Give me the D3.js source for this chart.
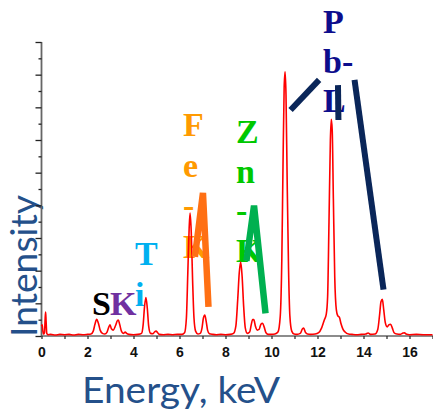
<!DOCTYPE html>
<html>
<head>
<meta charset="utf-8">
<script src="https://cdn.jsdelivr.net/npm/d3@7"></script>
<style>
  html, body { margin: 0; padding: 0; background: #fff; }
  svg { display: block; }
</style>
</head>
<body>
<svg id="chart" width="433" height="411"></svg>
<script>
// XRF spectrum: energy (keV) and intensity (arbitrary units, 1 = one major tick)
const energyKeV = [
  0.00, 0.03, 0.06, 0.09, 0.13, 0.16, 0.18, 0.20, 0.23, 0.28, 0.40, 0.60, 0.80, 1.00, 1.20, 1.40, 1.60, 1.80, 2.00,
  2.15, 2.25, 2.32, 2.40, 2.47, 2.55, 2.65, 2.75, 2.85, 2.93, 2.98, 3.04, 3.12, 3.22, 3.30, 3.34, 3.40, 3.48, 3.56,
  3.64, 3.70, 3.80, 4.00, 4.20, 4.35, 4.42, 4.48, 4.54, 4.60, 4.66, 4.74, 4.85, 4.92, 4.98, 5.05, 5.12, 5.30, 5.50,
  5.70, 5.90, 6.10, 6.22, 6.30, 6.36, 6.42, 6.46, 6.51, 6.57, 6.63, 6.70, 6.80, 6.90, 6.98, 7.04, 7.10, 7.16, 7.22,
  7.30, 7.45, 7.60, 7.80, 8.00, 8.20, 8.35, 8.45, 8.53, 8.60, 8.66, 8.72, 8.79, 8.86, 8.95, 9.05, 9.12, 9.18, 9.23,
  9.30, 9.38, 9.46, 9.54, 9.61, 9.68, 9.76, 9.86, 10.00, 10.15, 10.28, 10.38, 10.45, 10.50, 10.55, 10.59, 10.63,
  10.68, 10.74, 10.80, 10.88, 10.98, 11.10, 11.25, 11.35, 11.40, 11.47, 11.56, 11.70, 11.90, 12.05, 12.18, 12.30,
  12.38, 12.44, 12.50, 12.56, 12.60, 12.64, 12.69, 12.75, 12.82, 12.88, 12.95, 13.02, 13.10, 13.20, 13.35, 13.50,
  13.70, 13.90, 14.10, 14.20, 14.30, 14.50, 14.62, 14.70, 14.76, 14.82, 14.88, 14.95, 15.03, 15.10, 15.18, 15.25,
  15.33, 15.45, 15.60, 15.72, 15.78, 15.85, 16.00, 16.30, 16.60, 17.00
];
const intensity = [
  0.30, 0.34, 0.15, 0.06, 0.10, 0.55, 0.73, 0.45, 0.08, 0.04, 0.05, 0.03, 0.05, 0.04, 0.05, 0.03, 0.05, 0.04, 0.05,
  0.06, 0.15, 0.35, 0.51, 0.40, 0.18, 0.08, 0.06, 0.12, 0.28, 0.34, 0.22, 0.18, 0.32, 0.47, 0.49, 0.35, 0.14, 0.08,
  0.12, 0.08, 0.05, 0.04, 0.05, 0.08, 0.35, 0.90, 1.18, 0.85, 0.30, 0.08, 0.07, 0.13, 0.15, 0.10, 0.05, 0.04, 0.05,
  0.04, 0.05, 0.05, 0.10, 0.55, 1.90, 3.30, 3.76, 3.20, 1.70, 0.55, 0.15, 0.06, 0.08, 0.25, 0.55, 0.64, 0.45, 0.18,
  0.07, 0.05, 0.04, 0.05, 0.04, 0.05, 0.08, 0.30, 1.10, 1.95, 2.26, 1.85, 0.90, 0.25, 0.08, 0.12, 0.35, 0.50, 0.50,
  0.30, 0.18, 0.20, 0.36, 0.39, 0.28, 0.10, 0.05, 0.05, 0.06, 0.12, 0.60, 2.40, 5.20, 7.60, 8.09, 7.40,
  4.80, 2.10, 0.60, 0.15, 0.06, 0.05, 0.08, 0.22, 0.24, 0.12, 0.06, 0.05, 0.06, 0.10, 0.25, 0.50,
  0.66, 1.20, 3.50, 6.00, 6.63, 6.30, 4.20, 1.80, 0.80, 0.62, 0.58, 0.38, 0.22, 0.12, 0.06, 0.05,
  0.04, 0.05, 0.06, 0.09, 0.05, 0.06, 0.20, 0.65, 1.05, 1.12, 0.80, 0.40, 0.28, 0.34, 0.36, 0.25,
  0.10, 0.06, 0.05, 0.09, 0.10, 0.06, 0.04, 0.05, 0.04, 0.04
];

// Axis ticks
const xTickValues = d3.range(0, 18, 1);
const xTickLabels = ["0", "", "2", "", "4", "", "6", "", "8", "", "10", "", "12", "", "14", "", "16", ""];
const yMajorTicks = [0, 1, 2, 3, 4, 5, 6, 7, 8, 9];
const yMinorTicks = [0.5, 1.5, 2.5, 3.5, 4.5, 5.5, 6.5, 7.5, 8.5];

// Element line labels, one character group per row
const labelFe = ["F", "e", "-", "K"];
const labelZn = ["Z", "n", "-", "K"];
const labelPb = ["P", "b-", "L"];
const labelTi = ["T", "i"];
const labelS = "S";
const labelK = "K";

// Pointer lines, endpoints in [keV, intensity]
const pointerFe = [[6.67, 2.42], [7.02, 4.38], [7.26, 0.89]];
const pointerZn = [[8.91, 2.30], [9.24, 3.99], [9.74, 0.69]];
const pointerPbA = [[10.83, 6.92], [12.07, 7.84]];
const pointerPbB = [[12.89, 7.68], [12.91, 6.61]];
const pointerPbC = [[13.61, 7.84], [14.87, 1.42]];

const svg = d3.select("#chart");

const x = d3.scaleLinear().domain([0, 17]).range([41.5, 432.5]);
const y = d3.scaleLinear().domain([0, 9]).range([336, 42]);

// Axis titles
const titleColor = "#24508a";
svg.append("text")
  .attr("x", 82).attr("y", 403)
  .attr("font-family", "Lato, 'Open Sans', sans-serif")
  .attr("font-size", 37)
  .attr("fill", titleColor)
  .attr("textLength", 198)
  .attr("lengthAdjust", "spacingAndGlyphs")
  .text("Energy, keV");

svg.append("text")
  .attr("transform", "translate(37,337) rotate(-90)")
  .attr("font-family", "Lato, 'Open Sans', sans-serif")
  .attr("font-size", 36)
  .attr("fill", titleColor)
  .attr("textLength", 142)
  .attr("lengthAdjust", "spacingAndGlyphs")
  .text("Intensity");

// X axis
const xAxis = svg.append("g")
  .attr("transform", `translate(0,${y(0)})`)
  .call(d3.axisBottom(x)
    .tickValues(xTickValues)
    .tickSize(3)
    .tickPadding(8)
    .tickFormat((d, i) => xTickLabels[i]));
xAxis.select(".domain").attr("stroke", "#666").attr("stroke-width", 1.6)
  .attr("d", `M${x(0)},0H433`);
xAxis.selectAll(".tick line").attr("stroke", "#222").attr("stroke-width", 1.2);
xAxis.selectAll(".tick text")
  .attr("font-family", "'Liberation Sans', Arial, sans-serif")
  .attr("font-weight", "bold")
  .attr("font-size", 14)
  .attr("fill", "#111");

// Y axis: major and minor ticks, no labels
const yAxis = svg.append("g")
  .attr("transform", `translate(${x(0)},0)`)
  .call(d3.axisLeft(y).tickValues(yMajorTicks).tickSize(6).tickFormat(""));
yAxis.select(".domain").attr("stroke", "#666").attr("stroke-width", 1.8)
  .attr("d", `M0,${y(9)}V${y(0)}`);
yAxis.selectAll(".tick line").attr("stroke", "#222").attr("stroke-width", 1.3);

const yMinor = svg.append("g")
  .attr("transform", `translate(${x(0)},0)`)
  .call(d3.axisLeft(y).tickValues(yMinorTicks).tickSize(3).tickFormat(""));
yMinor.select(".domain").remove();
yMinor.selectAll(".tick line").attr("stroke", "#222").attr("stroke-width", 1.3);

// Element labels (drawn beneath the spectrum and pointers)
const serif = "'Liberation Serif', 'Times New Roman', serif";
function stackedLabel(rows, x0, y0, step, color) {
  svg.append("g").selectAll("text")
    .data(rows)
    .join("text")
    .attr("x", x0)
    .attr("y", (d, i) => y0 + i * step)
    .attr("font-family", serif)
    .attr("font-weight", "bold")
    .attr("font-size", 34)
    .attr("fill", color)
    .text(d => d);
}
stackedLabel(labelFe, 183, 136, 40.5, "#ff9a00");
stackedLabel(labelZn, 236, 143, 39.7, "#00c800");
stackedLabel(labelPb, 323, 33, 39.5, "#0d0d8c");
stackedLabel(labelTi, 135, 265, 41, "#00b0f0");
stackedLabel([labelS], 92, 315, 0, "#000000");
stackedLabel([labelK], 110, 315, 0, "#7030a0");

// Spectrum
const spectrum = energyKeV.map((e, i) => [e, intensity[i]]);
svg.append("path")
  .datum(spectrum)
  .attr("fill", "none")
  .attr("stroke", "#ff0000")
  .attr("stroke-width", 1.6)
  .attr("stroke-linejoin", "round")
  .attr("d", d3.line().x(d => x(d[0])).y(d => y(d[1])).curve(d3.curveMonotoneX));

// Pointer lines
const pointerLine = d3.line().x(d => x(d[0])).y(d => y(d[1]));
function pointer(pts, color, width) {
  svg.append("path")
    .datum(pts)
    .attr("fill", "none")
    .attr("stroke", color)
    .attr("stroke-width", width)
    .attr("stroke-linejoin", "miter")
    .attr("d", pointerLine);
}
pointer(pointerFe, "#ff7014", 6.5);
pointer(pointerZn, "#00b050", 6.5);
pointer(pointerPbA, "#0a2659", 6);
pointer(pointerPbB, "#0a2659", 6);
pointer(pointerPbC, "#0a2659", 6);
</script>
</body>
</html>
